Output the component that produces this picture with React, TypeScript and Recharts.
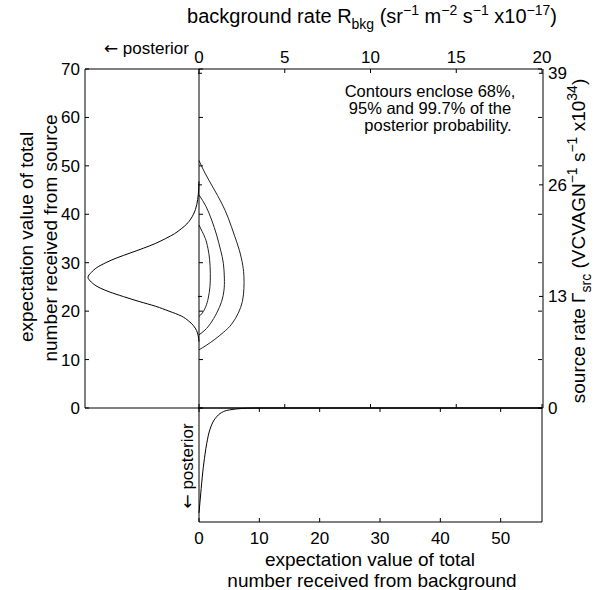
import React from 'react';
import { LineChart, Line, XAxis, YAxis, ReferenceLine } from 'recharts';

const W = 597;
const H = 590;
const FONT = '"Liberation Sans", Arial, Helvetica, sans-serif';
const ARROW_FONT = '"DejaVu Sans", sans-serif';

// frame positions (px)
const PL = 85; // left posterior panel, left edge
const X0 = 199;
const X1 = 542;
const Y0 = 69;
const Y1 = 408;
const Y2 = 522;

// tick labels
const countTicks = [0, 10, 20, 30, 40, 50, 60, 70];
const rateTicks = [0, 5, 10, 15, 20];
const srcRateTicks = [0, 13, 26, 39];
const bkgCountTicks = [0, 10, 20, 30, 40, 50];

// contours: [background rate, source counts]
const contour997: [number, number][] = [
  [0, 12.0], [0.45, 13.0], [0.93, 14.2], [1.42, 15.6], [1.9, 17.3], [2.29, 19.6], [2.53, 22.0],
  [2.62, 24.7], [2.62, 27.1], [2.55, 29.5], [2.35, 32.6], [2.06, 35.7], [1.71, 39.2], [1.32, 42.3],
  [0.84, 45.4], [0.35, 48.5], [0, 51.1],
];
const contour95: [number, number][] = [
  [0, 15.1], [0.35, 16.1], [0.68, 17.5], [1.03, 19.6], [1.32, 22.0], [1.46, 24.4], [1.48, 26.8],
  [1.42, 29.9], [1.26, 32.6], [1.03, 35.7], [0.74, 38.8], [0.41, 41.6], [0, 44.0],
];
const contour68: [number, number][] = [
  [0, 18.9], [0.19, 19.6], [0.39, 20.9], [0.54, 22.7], [0.64, 25.1], [0.66, 27.8], [0.62, 30.6],
  [0.52, 33.0], [0.37, 35.0], [0.19, 36.4], [0, 37.8],
];

// marginal posterior of source counts
const srcCount = [13.7, 15, 16, 17, 18, 19, 20, 21, 22, 23, 24, 25, 26, 27, 28, 29, 30, 31, 32, 33, 34, 35, 36, 37, 38, 39, 40, 41, 42, 43, 44, 45, 46.8];
const srcPost = [0, 0.008, 0.022, 0.05, 0.095, 0.16, 0.27, 0.39, 0.54, 0.68, 0.81, 0.91, 0.97, 1.0, 0.97, 0.92, 0.84, 0.74, 0.62, 0.5, 0.39, 0.3, 0.22, 0.16, 0.11, 0.075, 0.05, 0.032, 0.02, 0.012, 0.007, 0.003, 0];

// marginal posterior of background counts
const bkgCount = [0, 0.28, 0.61, 1.0, 1.55, 2.1, 2.93, 4.03, 5.1, 6.2, 8, 10, 56.85];
const bkgPost = [1.0, 0.82, 0.62, 0.44, 0.26, 0.16, 0.083, 0.035, 0.018, 0.009, 0.002, 0, 0];

const toPts = (c: [number, number][]) => c.map(([r, n]) => ({ r, n }));
const srcData = srcCount.map((n, i) => ({ n, d: srcPost[i] }));
const bkgData = bkgCount.map((x, i) => ({ x, d: bkgPost[i] }));

const TICK = 4;
const TICK_FS = 17;

type Side = 'top' | 'bottom' | 'left' | 'right';

// matlab style: tick marks point into the box, labels outside
function tickFor(side: Side, labelled: boolean) {
  return (p: any) => {
    const { x, y, payload } = p;
    const v = payload.value;
    let line;
    let label = null;
    if (side === 'top') {
      line = <line x1={x} y1={y} x2={x} y2={y + TICK} />;
      if (labelled) label = <text x={x} y={y - 6} textAnchor="middle">{v}</text>;
    } else if (side === 'bottom') {
      line = <line x1={x} y1={y} x2={x} y2={y - TICK} />;
      if (labelled) label = <text x={x} y={y + 22} textAnchor="middle">{v}</text>;
    } else if (side === 'left') {
      line = <line x1={x} y1={y} x2={x + TICK} y2={y} />;
      if (labelled) label = <text x={x - 5} y={y + 6} textAnchor="end">{v}</text>;
    } else {
      line = <line x1={x} y1={y} x2={x - TICK} y2={y} />;
      if (labelled) label = <text x={x + 5} y={y + 6} textAnchor="start">{v}</text>;
    }
    return (
      <g>
        <g stroke="#000" strokeWidth={1}>{line}</g>
        {label && (
          <g fill="#000" stroke="none" fontFamily={FONT} fontSize={TICK_FS}>{label}</g>
        )}
      </g>
    );
  };
}

// axes get 1px of room (recharts skips drawing a 0-size axis)
const axisCommon = { tickSize: 0, tickMargin: 0, interval: 0 as const, axisLine: { stroke: '#000' } };
// invisible series so that the extra axes are drawn
const ghost = { stroke: 'none', dot: false, activeDot: false, isAnimationActive: false } as const;

function LeftPanel() {
  return (
    <LineChart
      layout="vertical"
      width={W}
      height={H}
      data={srcData}
      margin={{ top: Y0, bottom: H - Y1, left: PL - 1, right: W - X0 }}
    >
      <XAxis type="number" domain={[0, 1.027]} reversed hide />
      <YAxis
        type="number"
        dataKey="n"
        domain={[0, 70]}
        reversed
        ticks={countTicks}
        width={1}
        tick={tickFor('left', true)}
        {...axisCommon}
      />
      <ReferenceLine y={70} stroke="#000" />
      <ReferenceLine y={0} stroke="#000" />
      <Line dataKey="d" type="monotone" stroke="#000" strokeWidth={1} dot={false} isAnimationActive={false} />
    </LineChart>
  );
}

function MainPanel() {
  const ghostPts = toPts(contour68);
  return (
    <LineChart width={W} height={H} margin={{ top: Y0 - 1, bottom: H - Y1 - 1, left: X0 - 2, right: W - X1 - 2 }}>
      <XAxis xAxisId="t" orientation="top" type="number" dataKey="r" domain={[0, 20]} ticks={rateTicks}
        height={1} tick={tickFor('top', true)} {...axisCommon} />
      <XAxis xAxisId="tb" orientation="bottom" type="number" dataKey="r" domain={[0, 20]} ticks={rateTicks}
        height={1} tick={tickFor('bottom', false)} {...axisCommon} />
      <YAxis yAxisId="n" orientation="left" type="number" domain={[0, 70]} ticks={countTicks}
        width={1} tick={tickFor('left', false)} {...axisCommon} />
      <YAxis yAxisId="rl" orientation="left" type="number" domain={[0, 39.5]} ticks={srcRateTicks}
        width={1} tick={tickFor('left', false)} {...axisCommon} axisLine={false} />
      <YAxis yAxisId="r" orientation="right" type="number" domain={[0, 39.5]} ticks={srcRateTicks}
        width={1} tick={tickFor('right', true)} {...axisCommon} />
      <YAxis yAxisId="nr" orientation="right" type="number" domain={[0, 70]} ticks={countTicks}
        width={1} tick={tickFor('right', false)} {...axisCommon} axisLine={false} />
      {[contour997, contour95, contour68].map((c, i) => (
        <Line key={i} xAxisId="t" yAxisId="n" data={toPts(c)} dataKey="n" type="natural"
          stroke="#222" strokeWidth={1} dot={false} isAnimationActive={false} />
      ))}
      <Line xAxisId="tb" yAxisId="r" data={ghostPts} dataKey="n" {...ghost} />
      <Line xAxisId="tb" yAxisId="rl" data={ghostPts} dataKey="n" {...ghost} />
      <Line xAxisId="tb" yAxisId="nr" data={ghostPts} dataKey="n" {...ghost} />
    </LineChart>
  );
}

function BottomPanel() {
  return (
    <LineChart width={W} height={H} data={bkgData}
      margin={{ top: Y1 - 1, bottom: H - Y2 - 1, left: X0 - 1, right: W - X1 - 1 }}>
      <XAxis orientation="bottom" type="number" dataKey="x" domain={[0, 56.85]} ticks={bkgCountTicks}
        height={1} tick={tickFor('bottom', true)} {...axisCommon} />
      <XAxis xAxisId="m" orientation="top" type="number" dataKey="x" domain={[0, 56.85]} ticks={bkgCountTicks}
        height={1} tick={tickFor('top', false)} {...axisCommon} />
      <YAxis type="number" domain={[0, 1.087]} reversed width={1} tick={false} axisLine={{ stroke: '#000' }} />
      <YAxis yAxisId="rr" orientation="right" type="number" domain={[0, 1.087]} reversed width={1} tick={false}
        axisLine={{ stroke: '#000' }} />
      <Line dataKey="d" type="monotone" stroke="#000" strokeWidth={1} dot={false} isAnimationActive={false} />
      <Line xAxisId="m" yAxisId="rr" dataKey="d" {...ghost} />
    </LineChart>
  );
}

function Labels() {
  return (
    <svg width={W} height={H} style={{ position: 'absolute', left: 0, top: 0 }} fontFamily={FONT} fill="#000">
      <text x={372} y={23} textAnchor="middle" fontSize={20}>
        background rate R<tspan dy={6} fontSize={14}>bkg</tspan>
        <tspan dy={-6}> (sr</tspan><tspan dy={-8} fontSize={14}>−1</tspan>
        <tspan dy={8}> m</tspan><tspan dy={-8} fontSize={14}>−2</tspan>
        <tspan dy={8}> s</tspan><tspan dy={-8} fontSize={14}>−1</tspan>
        <tspan dy={8}> x10</tspan><tspan dy={-8} fontSize={14}>−17</tspan>
        <tspan dy={8}>)</tspan>
      </text>
      <text x={189} y={54} textAnchor="end" fontSize={17}>
        <tspan fontFamily={ARROW_FONT}>←</tspan> posterior
      </text>
      <g fontSize={16.5}>
        <text x={430} y={97} textAnchor="middle">Contours enclose 68%,</text>
        <text x={430} y={114} textAnchor="middle">95% and 99.7% of the</text>
        <text x={438} y={131} textAnchor="middle">posterior probability.</text>
      </g>
      <g fontSize={19}>
        <text transform="translate(33,237) rotate(-90)" textAnchor="middle">expectation value of total</text>
        <text transform="translate(56.5,238) rotate(-90)" textAnchor="middle">number received from source</text>
        <text x={370} y={566} textAnchor="middle">expectation value of total</text>
        <text x={372} y={587} textAnchor="middle">number received from background</text>
        <text transform="translate(585,241) rotate(-90)" textAnchor="middle">
          source rate Γ<tspan dy={6} fontSize={14}>src</tspan>
          <tspan dy={-6}> (VCVAGN</tspan><tspan dy={-8} fontSize={14}>−1</tspan>
          <tspan dy={8}> s</tspan><tspan dy={-8} fontSize={14}>−1</tspan>
          <tspan dy={8}> x10</tspan><tspan dy={-8} fontSize={14}>34</tspan>
          <tspan dy={8}>)</tspan>
        </text>
      </g>
      <text transform="translate(193,466) rotate(-90)" textAnchor="middle" fontSize={17}>
        <tspan fontFamily={ARROW_FONT}>←</tspan> posterior
      </text>
    </svg>
  );
}

export default function App() {
  const layer: React.CSSProperties = { position: 'absolute', left: 0, top: 0 };
  return (
    <div style={{ position: 'absolute', left: 0, top: 0, width: W, height: H, background: '#fff' }}>
      <div style={layer}><LeftPanel /></div>
      <div style={layer}><MainPanel /></div>
      <div style={layer}><BottomPanel /></div>
      <Labels />
    </div>
  );
}
